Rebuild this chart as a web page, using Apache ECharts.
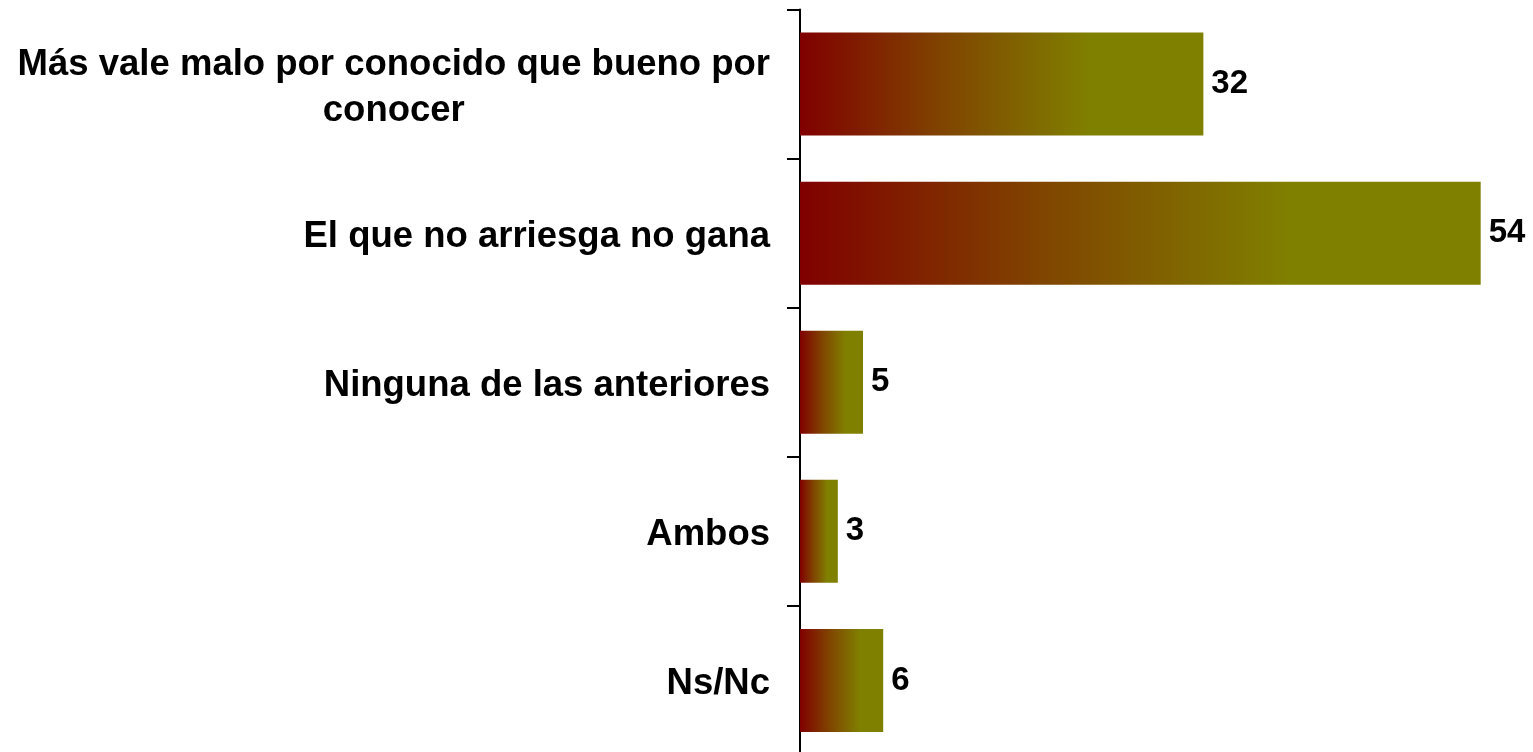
<!DOCTYPE html>
<html><head><meta charset="utf-8">
<script src="https://cdn.jsdelivr.net/npm/echarts@6/dist/echarts.min.js"></script>
<style>html,body{margin:0;padding:0;background:#fff}#c{width:1533px;height:752px}</style>
</head><body><div id="c"></div>
<script>
const categories = ['Más vale malo por conocido que bueno por\nconocer', 'El que no arriesga no gana', 'Ninguna de las anteriores', 'Ambos', 'Ns/Nc'];
const barValues = [32, 54, 5, 3, 6.6];
const valueLabels = ['32', '54', '5', '3', '6'];

const FONT = '"Liberation Sans", Arial, sans-serif';
const chart = echarts.init(document.getElementById('c'));
const grad = new echarts.graphic.LinearGradient(0, 0, 1, 0, [
  {offset: 0, color: '#800000'},
  {offset: 0.35, color: '#804400'},
  {offset: 0.72, color: '#808000'},
  {offset: 1, color: '#808000'}
]);
chart.setOption({
  animation: false,
  backgroundColor: '#fff',
  grid: {left: 800, top: 9.5, height: 745.5, right: 14.5, containLabel: false, outerBoundsMode: 'none'},
  xAxis: {type: 'value', min: 0, max: 57, show: false},
  yAxis: {
    type: 'category', inverse: true, data: categories,
    axisLine: {show: true, lineStyle: {color: '#000', width: 2}},
    axisTick: {show: true, length: 13, lineStyle: {color: '#000', width: 2}},
    axisLabel: {
      margin: 30, align: 'right', padding: [7, 0, 0, 0],
      formatter: v => v.split('\n').map(s => '{c|' + s + '}').join('\n'),
      rich: {c: {fontSize: 36.5, fontWeight: 'bold', fontFamily: FONT, color: '#000', lineHeight: 46, align: 'center'}}
    }
  },
  series: [{
    type: 'bar', data: barValues, barWidth: 103,
    itemStyle: {color: grad},
    label: {
      show: true, position: 'right', distance: 8, padding: [5, 0, 0, 0],
      formatter: p => valueLabels[p.dataIndex],
      fontSize: 33, fontWeight: 'bold', fontFamily: FONT, color: '#000'
    }
  }]
});
</script></body></html>
